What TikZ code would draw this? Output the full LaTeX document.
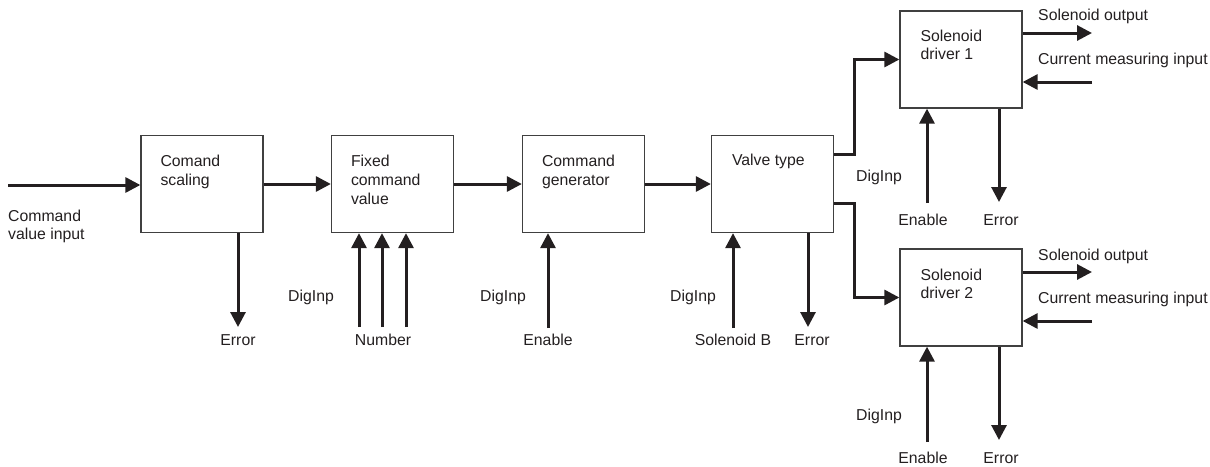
\documentclass[tikz,border=0pt]{standalone}
\usepackage{fontspec}
\setmainfont{Liberation Sans}
\usetikzlibrary{arrows.meta,calc}
\definecolor{ink}{HTML}{231F20}
\definecolor{frame}{HTML}{404040}
\tikzset{
  blk/.style={draw=frame, line width=1.3pt, rectangle, minimum width=122pt, minimum height=97pt, inner sep=0pt},
  blktext/.style={anchor=north west, align=left, inner sep=0pt, text=ink},
  arr/.style={draw=ink, line width=3pt, -{Triangle[length=15pt,width=15pt]}},
  lin/.style={draw=ink, line width=3pt},
  lbl/.style={anchor=base, inner sep=0pt, text=ink},
  lblw/.style={anchor=base west, inner sep=0pt, text=ink}
}
\begin{document}
\begin{tikzpicture}[x=1pt,y=-1pt,font=\fontsize{15.8}{18.8}\selectfont]
\useasboundingbox (0,0) rectangle (1210,466);
% blocks
\node[blk] (b1) at (202,184) {};
\node[blk] (b2) at (392.5,184) {};
\node[blk] (b3) at (583.5,184) {};
\node[blk] (b4) at (772.5,184) {};
\node[blk] (b5) at (961,59.5) {};
\node[blk] (b6) at (961,297.5) {};
% block texts
\node[blktext] (t1) at ([shift={(20,20)}]b1.north west) {Comand\\scaling};
\node[blktext] (t2) at ([shift={(20,20)}]b2.north west) {Fixed\\command\\value};
\node[blktext] (t3) at ([shift={(20,20)}]b3.north west) {Command\\generator};
\node[blktext] (t4) at ([shift={(21,19)}]b4.north west) {Valve type};
\node[blktext] (t5) at ([shift={(21,19)}]b5.north west) {Solenoid\\driver 1};
\node[blktext] (t6) at ([shift={(21,20)}]b6.north west) {Solenoid\\driver 2};
% free ends
\coordinate (in) at (8,185);
\coordinate (e1) at (238,327);
\coordinate (n1) at (359,327);
\coordinate (n2) at (382,327);
\coordinate (n3) at (406,327);
\coordinate (en3) at (548,328);
\coordinate (sb) at (733,328);
\coordinate (e4) at (808,327);
\coordinate (en5) at (927,203);
\coordinate (e5) at (999,202);
\coordinate (en6) at (927,442);
\coordinate (e6) at (999,440);
\coordinate (o1) at (1092,33);
\coordinate (c1) at (1092,82);
\coordinate (o2) at (1092,272);
\coordinate (c2) at (1092,321);
% main flow
\draw[arr] (in) -- (in -| b1.west);
\draw[arr] (b1.east) -- (b2.west);
\draw[arr] (b2.east) -- (b3.west);
\draw[arr] (b3.east) -- (b4.west);
% branches
\draw[arr] ([shift={(0,20)}]b4.north east) -- ++(20,0) |- (b5.west);
\draw[arr] ([shift={(0,-30)}]b4.south east) -- ++(20,0) |- (b6.west);
% vertical signals
\draw[arr] (e1 |- b1.south) -- (e1);
\draw[arr] (n1) -- (n1 |- b2.south);
\draw[arr] (n2) -- (n2 |- b2.south);
\draw[arr] (n3) -- (n3 |- b2.south);
\draw[arr] (en3) -- (en3 |- b3.south);
\draw[arr] (sb) -- (sb |- b4.south);
\draw[arr] (e4 |- b4.south) -- (e4);
\draw[arr] (en5) -- (en5 |- b5.south);
\draw[arr] (e5 |- b5.south) -- (e5);
\draw[arr] (en6) -- (en6 |- b6.south);
\draw[arr] (e6 |- b6.south) -- (e6);
% solenoid outputs / current inputs
\draw[arr] (o1 -| b5.east) -- (o1);
\draw[arr] (c1) -- (c1 -| b5.east);
\draw[arr] (o2 -| b6.east) -- (o2);
\draw[arr] (c2) -- (c2 -| b6.east);
% labels
\node[blktext] (lin) at (8,209.5) {Command\\value input};
\node[lbl] (l1) at (238,345.5) {Error};
\node[lbl] (l2) at (311,301) {DigInp};
\node[lbl] (l3) at (383,345.5) {Number};
\node[lbl] (l4) at (503,301) {DigInp};
\node[lbl] (l5) at (548,345.5) {Enable};
\node[lbl] (l6) at (693,301) {DigInp};
\node[lbl] (l7) at (733,345.5) {Solenoid B};
\node[lbl] (l8) at (812,345.5) {Error};
\node[lblw] (l9) at (1038,20.7) {Solenoid output};
\node[lblw] (l10) at (1038,64.3) {Current measuring input};
\node[lbl] (l11) at (879,181.7) {DigInp};
\node[lbl] (l12) at (923,225.7) {Enable};
\node[lbl] (l13) at (1001,225.7) {Error};
\node[lblw] (l14) at (1038,260) {Solenoid output};
\node[lblw] (l15) at (1038,303.3) {Current measuring input};
\node[lbl] (l16) at (879,420) {DigInp};
\node[lbl] (l17) at (923,463.3) {Enable};
\node[lbl] (l18) at (1001,463.3) {Error};
\end{tikzpicture}
\end{document}
